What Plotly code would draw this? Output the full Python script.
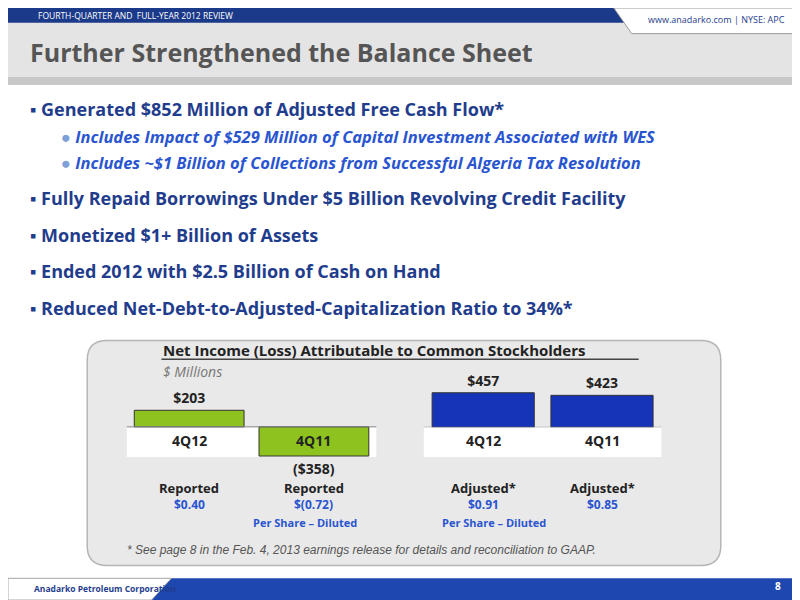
import plotly.graph_objects as go

# chart data
periods = ["4Q12", "4Q11"]
reported = [203, -358]
adjusted = [457, 423]
reported_eps = ["$0.40", "$(0.72)"]
adjusted_eps = ["$0.91", "$0.85"]
bullets = [
    "Generated $852 Million of Adjusted Free Cash Flow*",
    "Fully Repaid Borrowings Under $5 Billion Revolving Credit Facility",
    "Monetized $1+ Billion of Assets",
    "Ended 2012 with $2.5 Billion of Cash on Hand",
    "Reduced Net-Debt-to-Adjusted-Capitalization Ratio to 34%*",
]
sub_bullets = [
    "Includes Impact of $529 Million of Capital Investment Associated with WES",
    "Includes ~$1 Billion of Collections from Successful Algeria Tax Resolution",
]

# slightly smaller than the window so the page does not scroll
W, H = 792, 592
FONT = "Open Sans"
BLUE = "#1f3d8c"


def px(x):
    return x / 800


def py(y):
    return 1 - y / 600


def fmt(v):
    return f"<b>${v}</b>" if v >= 0 else f"<b>(${-v})</b>"


fig = go.Figure()

fig.add_trace(go.Bar(
    x=periods, y=reported, xaxis="x", yaxis="y", width=0.88,
    marker=dict(color=["#8dc21f", "#8dc21f"], line=dict(color="#333", width=1)),
    text=[fmt(v) for v in reported], textposition="outside", cliponaxis=False,
    textfont=dict(family=FONT, size=14, color="#222"), showlegend=False,
))
fig.add_trace(go.Bar(
    x=periods, y=adjusted, xaxis="x2", yaxis="y2", width=0.86,
    marker=dict(color="#1634b8", line=dict(color="#333", width=1)),
    text=[fmt(v) for v in adjusted], textposition="outside", cliponaxis=False,
    textfont=dict(family=FONT, size=14, color="#222"), showlegend=False,
))

shapes = []
ann = []

# header
shapes.append(dict(type="rect", xref="paper", yref="paper", x0=0, x1=1, y0=py(78), y1=py(14),
                   fillcolor="#e4e4e4", line_width=0, layer="below"))
shapes.append(dict(type="rect", xref="paper", yref="paper", x0=0, x1=1, y0=py(78), y1=py(70),
                   fillcolor="#c8c8c8", line_width=0, layer="below"))
shapes.append(dict(type="rect", xref="paper", yref="paper", x0=0, x1=px(650), y0=py(15), y1=1,
                   fillcolor="#1b3a8a", line_width=0, layer="below"))
shapes.append(dict(type="path", xref="paper", yref="paper",
                   path=f"M {px(612)},{py(0)} L {px(800)},{py(0)} L {px(800)},{py(26)} L {px(630)},{py(26)} Z",
                   fillcolor="white", line=dict(color="#999", width=1), layer="below"))
# footer
shapes.append(dict(type="rect", xref="paper", yref="paper", x0=0, x1=1, y0=0, y1=py(578),
                   fillcolor="#1f47b0", line_width=0, layer="below"))
shapes.append(dict(type="path", xref="paper", yref="paper",
                   path=f"M 0,0 L {px(145)},0 L {px(165)},{py(578)} L 0,{py(578)} Z",
                   fillcolor="white", line=dict(color="#aaa", width=1), layer="below"))
# rounded panel
x0, x1, y0, y1, r = px(80), px(720), py(337), py(565), 0.025
rx, ry = r, r * 800 / 600
shapes.append(dict(type="path", xref="paper", yref="paper",
                   path=(f"M {x0+rx},{y0} L {x1-rx},{y0} Q {x1},{y0} {x1},{y0-ry} "
                         f"L {x1},{y1+ry} Q {x1},{y1} {x1-rx},{y1} L {x0+rx},{y1} "
                         f"Q {x0},{y1} {x0},{y1+ry} L {x0},{y0-ry} Q {x0},{y0} {x0+rx},{y0} Z"),
                   fillcolor="#e9e9e9", line=dict(color="#b5b5b5", width=1.5), layer="below"))
# white chart strips
shapes.append(dict(type="rect", xref="paper", yref="paper", x0=px(120), x1=px(372),
                   y0=py(455), y1=py(425), fillcolor="white", line_width=0, layer="below"))
shapes.append(dict(type="rect", xref="paper", yref="paper", x0=px(420), x1=px(660),
                   y0=py(455), y1=py(425), fillcolor="white", line_width=0, layer="below"))
shapes.append(dict(type="line", xref="paper", yref="paper", x0=px(155), x1=px(637),
                   y0=py(356), y1=py(356), line=dict(color="#444", width=1.5)))

ann.append(dict(x=px(28), y=py(8), text="FOURTH-QUARTER AND  FULL-YEAR 2012 REVIEW",
                font=dict(family=FONT, size=8.5, color="white"), xanchor="left"))
ann.append(dict(x=px(787), y=py(12), text="www.anadarko.com | NYSE: APC",
                font=dict(family=FONT, size=9, color=BLUE), xanchor="right"))
ann.append(dict(x=px(20), y=py(45), text="<b>Further Strengthened the Balance Sheet</b>",
                font=dict(family=FONT, size=25, color="#555"), xanchor="left"))
ann.append(dict(x=px(24), y=py(588), text="<b>Anadarko Petroleum Corporation</b>",
                font=dict(family=FONT, size=8.5, color=BLUE), xanchor="left"))
ann.append(dict(x=px(783), y=py(586), text="<b>8</b>",
                font=dict(family=FONT, size=10, color="white"), xanchor="right"))

bullet_y = [102, 193, 230, 267, 304]
for b, yy in zip(bullets, bullet_y):
    ann.append(dict(x=px(20), y=py(yy), text=f"▪ <b>{b}</b>",
                    font=dict(family=FONT, size=18, color=BLUE), xanchor="left"))
for s, yy in zip(sub_bullets, [130, 157]):
    ann.append(dict(x=px(52), y=py(yy), text=f"<span style='color:#7f9fd8'>●</span> <b><i>{s}</i></b>",
                    font=dict(family=FONT, size=16.5, color="#2a55d0"), xanchor="left"))

ann.append(dict(x=px(155), y=py(347), text="<b>Net Income (Loss) Attributable to Common Stockholders</b>",
                font=dict(family=FONT, size=15, color="#222"), xanchor="left"))
ann.append(dict(x=px(155), y=py(368), text="<i>$ Millions</i>",
                font=dict(family=FONT, size=14, color="#777"), xanchor="left"))

# category labels inside the white strip
for xa in ["x", "x2"]:
    for p in periods:
        ann.append(dict(x=p, xref=xa, y=py(438), yref="paper", text=f"<b>{p}</b>",
                        font=dict(family=FONT, size=14, color="#222")))
for i, p in enumerate(periods):
    ann.append(dict(x=p, xref="x", y=py(486), yref="paper", text="<b>Reported</b>",
                    font=dict(family=FONT, size=13, color="#222")))
    ann.append(dict(x=p, xref="x", y=py(503), yref="paper", text=f"<b>{reported_eps[i]}</b>",
                    font=dict(family=FONT, size=12, color="#2a55d0")))
    ann.append(dict(x=p, xref="x2", y=py(486), yref="paper", text="<b>Adjusted*</b>",
                    font=dict(family=FONT, size=13, color="#222")))
    ann.append(dict(x=p, xref="x2", y=py(503), yref="paper", text=f"<b>{adjusted_eps[i]}</b>",
                    font=dict(family=FONT, size=12, color="#2a55d0")))
ann.append(dict(x=px(245), y=py(521), text="<b>Per Share – Diluted</b>",
                font=dict(family=FONT, size=11, color="#2a55d0")))
ann.append(dict(x=px(545), y=py(521), text="<b>Per Share – Diluted</b>",
                font=dict(family=FONT, size=11, color="#2a55d0")))
ann.append(dict(x=px(118), y=py(549), text="<i>* See page 8 in the Feb. 4, 2013 earnings release for details and reconciliation to GAAP.</i>",
                font=dict(family="Liberation Sans", size=12, color="#555"), xanchor="left"))

for a in ann:
    a.setdefault("xref", "paper")
    a.setdefault("yref", "paper")
    a.setdefault("showarrow", False)
    a.setdefault("yanchor", "middle")

noax = dict(showgrid=False, showticklabels=False, zeroline=False, fixedrange=True)
fig.update_layout(
    width=W, height=H, margin=dict(l=0, r=0, t=0, b=0),
    paper_bgcolor="white", plot_bgcolor="rgba(0,0,0,0)", bargap=0.1,
    xaxis=dict(domain=[px(120), px(372)], **noax, showline=False),
    yaxis=dict(domain=[py(465), py(395)], range=[-490, 357], **noax),
    xaxis2=dict(domain=[px(420), px(660)], anchor="y2", **noax),
    yaxis2=dict(domain=[py(425), py(380)], range=[0, 587], anchor="x2", **noax),
    shapes=shapes, annotations=ann,
)
fig.add_shape(type="line", xref="paper", yref="y", x0=px(120), x1=px(372), y0=0, y1=0,
              line=dict(color="#888", width=1))
fig.add_shape(type="line", xref="paper", yref="y2", x0=px(420), x1=px(660), y0=0, y1=0,
              line=dict(color="#888", width=1))

fig.write_html("out.html")
